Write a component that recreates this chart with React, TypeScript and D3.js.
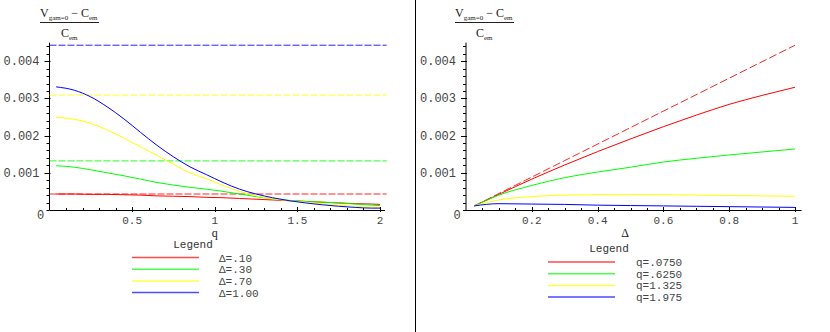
import React, { useRef, useEffect } from 'react';
import * as d3 from 'd3';

// left panel: curves against q, one per delta
const deltaLabels = ['Δ=.10', 'Δ=.30', 'Δ=.70', 'Δ=1.00'];
const qGrid = [0.04, 0.15, 0.25, 0.35, 0.45, 0.55, 0.65, 0.75, 0.85, 0.95, 1.05, 1.15, 1.25, 1.35, 1.45, 1.55, 1.65, 1.75, 1.85, 1.95, 2.0];
// values in units of 0.001
const leftRed = [0.43, 0.43, 0.42, 0.42, 0.41, 0.40, 0.38, 0.37, 0.36, 0.34, 0.33, 0.31, 0.29, 0.27, 0.25, 0.23, 0.21, 0.19, 0.17, 0.16, 0.15];
const leftGreen = [1.19, 1.15, 1.08, 1.00, 0.92, 0.83, 0.74, 0.67, 0.61, 0.56, 0.50, 0.43, 0.36, 0.30, 0.26, 0.23, 0.21, 0.19, 0.16, 0.13, 0.12];
const leftYellow = [2.49, 2.44, 2.33, 2.15, 1.93, 1.70, 1.47, 1.23, 1.00, 0.84, 0.66, 0.50, 0.38, 0.30, 0.25, 0.21, 0.17, 0.13, 0.10, 0.08, 0.07];
const leftBlue = [3.31, 3.22, 3.04, 2.77, 2.45, 2.09, 1.74, 1.43, 1.16, 0.95, 0.74, 0.56, 0.43, 0.33, 0.25, 0.19, 0.14, 0.10, 0.07, 0.05, 0.05];
// flat dashed reference levels (0.001 units), drawn over q = 0 .. 2.04
const leftLevels = [0.43, 1.32, 3.09, 4.43];
const qLevelRange = [0, 2.04];

// right panel: curves against delta, one per q
const qLabels = ['q=.0750', 'q=.6250', 'q=1.325', 'q=1.975'];
const dGrid = [0.025, 0.1, 0.2, 0.3, 0.4, 0.5, 0.6, 0.7, 0.8, 0.9, 1.0];
const rightRed = [0.11, 0.42, 0.83, 1.21, 1.57, 1.91, 2.24, 2.55, 2.84, 3.08, 3.30];
const rightGreen = [0.11, 0.40, 0.66, 0.87, 1.02, 1.15, 1.29, 1.39, 1.48, 1.56, 1.64];
const rightYellow = [0.11, 0.27, 0.36, 0.40, 0.41, 0.41, 0.41, 0.40, 0.39, 0.38, 0.37];
const rightBlue = [0.11, 0.17, 0.16, 0.15, 0.13, 0.12, 0.11, 0.10, 0.09, 0.08, 0.07];
// dashed straight line, endpoints
const rightDashedD = [0.025, 1.0];
const rightDashedV = [0.11, 4.43];

const colors = ['#ff0000', '#00ff00', '#ffff00', '#0000ff'];
const yTickValues = [0.001, 0.002, 0.003, 0.004];
const yTickLabels = ['0.001', '0.002', '0.003', '0.004'];
const leftXTicks = [0.5, 1, 1.5, 2];
const leftXLabels = ['0.5', '1', '1.5', '2'];
const rightXTicks = [0.2, 0.4, 0.6, 0.8, 1];
const rightXLabels = ['0.2', '0.4', '0.6', '0.8', '1'];

const MONO = '"Liberation Mono", "DejaVu Sans Mono", monospace';
const SERIF = '"Liberation Serif", "DejaVu Serif", serif';

const drawPanel = (svg, opt) => {
  const { x, y, xMax, xTicks, xLabels, xName, nameX, series, dashed, legend, title } = opt;
  const g = svg.append('g');
  const axisX = x(0);
  const base = y(0);

  // y axis
  g.append('line')
    .attr('x1', axisX).attr('x2', axisX)
    .attr('y1', base).attr('y2', y(0.0045))
    .attr('stroke', '#000').attr('stroke-width', 1);
  y.ticks(20).forEach(t => {
    g.append('line')
      .attr('x1', axisX - 3).attr('x2', axisX)
      .attr('y1', Math.round(y(t)) + 0.5).attr('y2', Math.round(y(t)) + 0.5)
      .attr('stroke', '#000');
  });
  yTickValues.forEach((t, i) => {
    g.append('line')
      .attr('x1', axisX - 5).attr('x2', axisX + 1)
      .attr('y1', Math.round(y(t)) + 0.5).attr('y2', Math.round(y(t)) + 0.5)
      .attr('stroke', '#000');
    g.append('text')
      .attr('x', axisX - 10).attr('y', y(t) + 4)
      .attr('text-anchor', 'end')
      .attr('font-family', MONO).attr('font-size', 12).attr('fill', '#444')
      .text(yTickLabels[i]);
  });

  // x axis
  g.append('line')
    .attr('x1', axisX).attr('x2', x(xMax))
    .attr('y1', Math.round(base) + 0.5).attr('y2', Math.round(base) + 0.5)
    .attr('stroke', '#000');
  x.ticks(20).forEach(t => {
    if (t === 0) return;
    g.append('line')
      .attr('x1', Math.round(x(t)) + 0.5).attr('x2', Math.round(x(t)) + 0.5)
      .attr('y1', base - 2).attr('y2', base)
      .attr('stroke', '#000');
  });
  xTicks.forEach((t, i) => {
    g.append('line')
      .attr('x1', Math.round(x(t)) + 0.5).attr('x2', Math.round(x(t)) + 0.5)
      .attr('y1', base - 3).attr('y2', base + 2)
      .attr('stroke', '#000');
    g.append('text')
      .attr('x', x(t)).attr('y', base + 14)
      .attr('text-anchor', 'middle')
      .attr('font-family', MONO).attr('font-size', 11).attr('fill', '#444')
      .text(xLabels[i]);
  });
  g.append('text')
    .attr('x', axisX - 9).attr('y', base + 9)
    .attr('text-anchor', 'middle')
    .attr('font-family', MONO).attr('font-size', 12).attr('fill', '#444')
    .text('0');
  g.append('text')
    .attr('x', nameX).attr('y', base + 27)
    .attr('text-anchor', 'middle')
    .attr('font-family', SERIF).attr('font-size', 12).attr('fill', '#222')
    .text(xName);

  // y axis title as a fraction
  const tt = g.append('text')
    .attr('x', title.x).attr('y', 17)
    .attr('font-family', SERIF).attr('font-size', 12).attr('fill', '#222');
  tt.append('tspan').text('V');
  tt.append('tspan').attr('dy', 3).attr('font-size', 7).text('gam=0');
  tt.append('tspan').attr('dy', -3).text(' − C');
  tt.append('tspan').attr('dy', 3).attr('font-size', 7).text('em');
  g.append('line')
    .attr('x1', title.x).attr('x2', title.x + 59)
    .attr('y1', 22.5).attr('y2', 22.5)
    .attr('stroke', '#222');
  const td = g.append('text')
    .attr('x', title.x + 21).attr('y', 37)
    .attr('font-family', SERIF).attr('font-size', 12).attr('fill', '#222');
  td.append('tspan').text('C');
  td.append('tspan').attr('dy', 3).attr('font-size', 7).text('em');

  // dashed lines, then the curves
  const line = d3.line().x(d => x(d[0])).y(d => y(d[1] / 1000)).curve(d3.curveMonotoneX);
  dashed.forEach(s => {
    g.append('path')
      .datum(s.pts)
      .attr('fill', 'none')
      .attr('stroke', s.color).attr('stroke-width', 1).attr('opacity', 0.85)
      .attr('stroke-dasharray', s.dash)
      .attr('d', line);
  });
  series.forEach(s => {
    g.append('path')
      .datum(s.xs.map((v, i) => [v, s.vs[i]]))
      .attr('fill', 'none')
      .attr('stroke', s.color).attr('stroke-width', 1)
      .attr('d', line);
  });

  // legend
  g.append('text')
    .attr('x', legend.cx).attr('y', legend.y0 - 10)
    .attr('text-anchor', 'middle')
    .attr('font-family', MONO).attr('font-size', 11).attr('fill', '#333')
    .text('Legend');
  legend.labels.forEach((lab, i) => {
    const ly = legend.y0 + i * 11.7;
    g.append('line')
      .attr('x1', legend.x1).attr('x2', legend.x2)
      .attr('y1', ly).attr('y2', ly)
      .attr('stroke', colors[i]).attr('stroke-width', 1.5).attr('opacity', 0.7);
    g.append('text')
      .attr('x', legend.tx).attr('y', ly + 4)
      .attr('font-family', MONO).attr('font-size', 11).attr('fill', '#444')
      .text(lab);
  });
};

const App = () => {
  const svgRef = useRef();

  useEffect(() => {
    const svg = d3.select(svgRef.current);
    svg.selectAll('*').remove();

    const y = d3.scaleLinear().domain([0, 0.0045]).range([210, 42.6]);

    // divider between panels
    svg.append('line')
      .attr('x1', 415.5).attr('x2', 415.5)
      .attr('y1', 0).attr('y2', 332)
      .attr('stroke', '#000');

    const xl = d3.scaleLinear().domain([0, 2]).range([49.5, 380]);
    drawPanel(svg, {
      x: xl, y, xMax: 2.03,
      xTicks: leftXTicks, xLabels: leftXLabels, xName: 'q', nameX: xl(1),
      title: { x: 40 },
      series: [leftRed, leftGreen, leftYellow, leftBlue].map((vs, i) => ({ xs: qGrid, vs, color: colors[i] })),
      dashed: leftLevels.map((v, i) => ({
        pts: qLevelRange.map(q => [q, v]),
        color: colors[i],
        dash: '7,2'
      })),
      legend: { cx: 193, y0: 257.5, x1: 132, x2: 199, tx: 219, labels: deltaLabels }
    });

    const xr = d3.scaleLinear().domain([0, 1]).range([466, 795]);
    drawPanel(svg, {
      x: xr, y, xMax: 1.02,
      xTicks: rightXTicks, xLabels: rightXLabels, xName: 'Δ', nameX: 625,
      title: { x: 455 },
      series: [rightRed, rightGreen, rightYellow, rightBlue].map((vs, i) => ({ xs: dGrid, vs, color: colors[i] })),
      dashed: [{
        pts: rightDashedD.map((d, i) => [d, rightDashedV[i]]),
        color: colors[0],
        dash: '8,3'
      }],
      legend: { cx: 609, y0: 262, x1: 548, x2: 615, tx: 636, labels: qLabels }
    });
  }, []);

  return (
    <svg
      ref={svgRef}
      width={830}
      height={332}
      style={{ position: 'absolute', left: 0, top: 0, background: '#fff' }}
    />
  );
};

export default App;
